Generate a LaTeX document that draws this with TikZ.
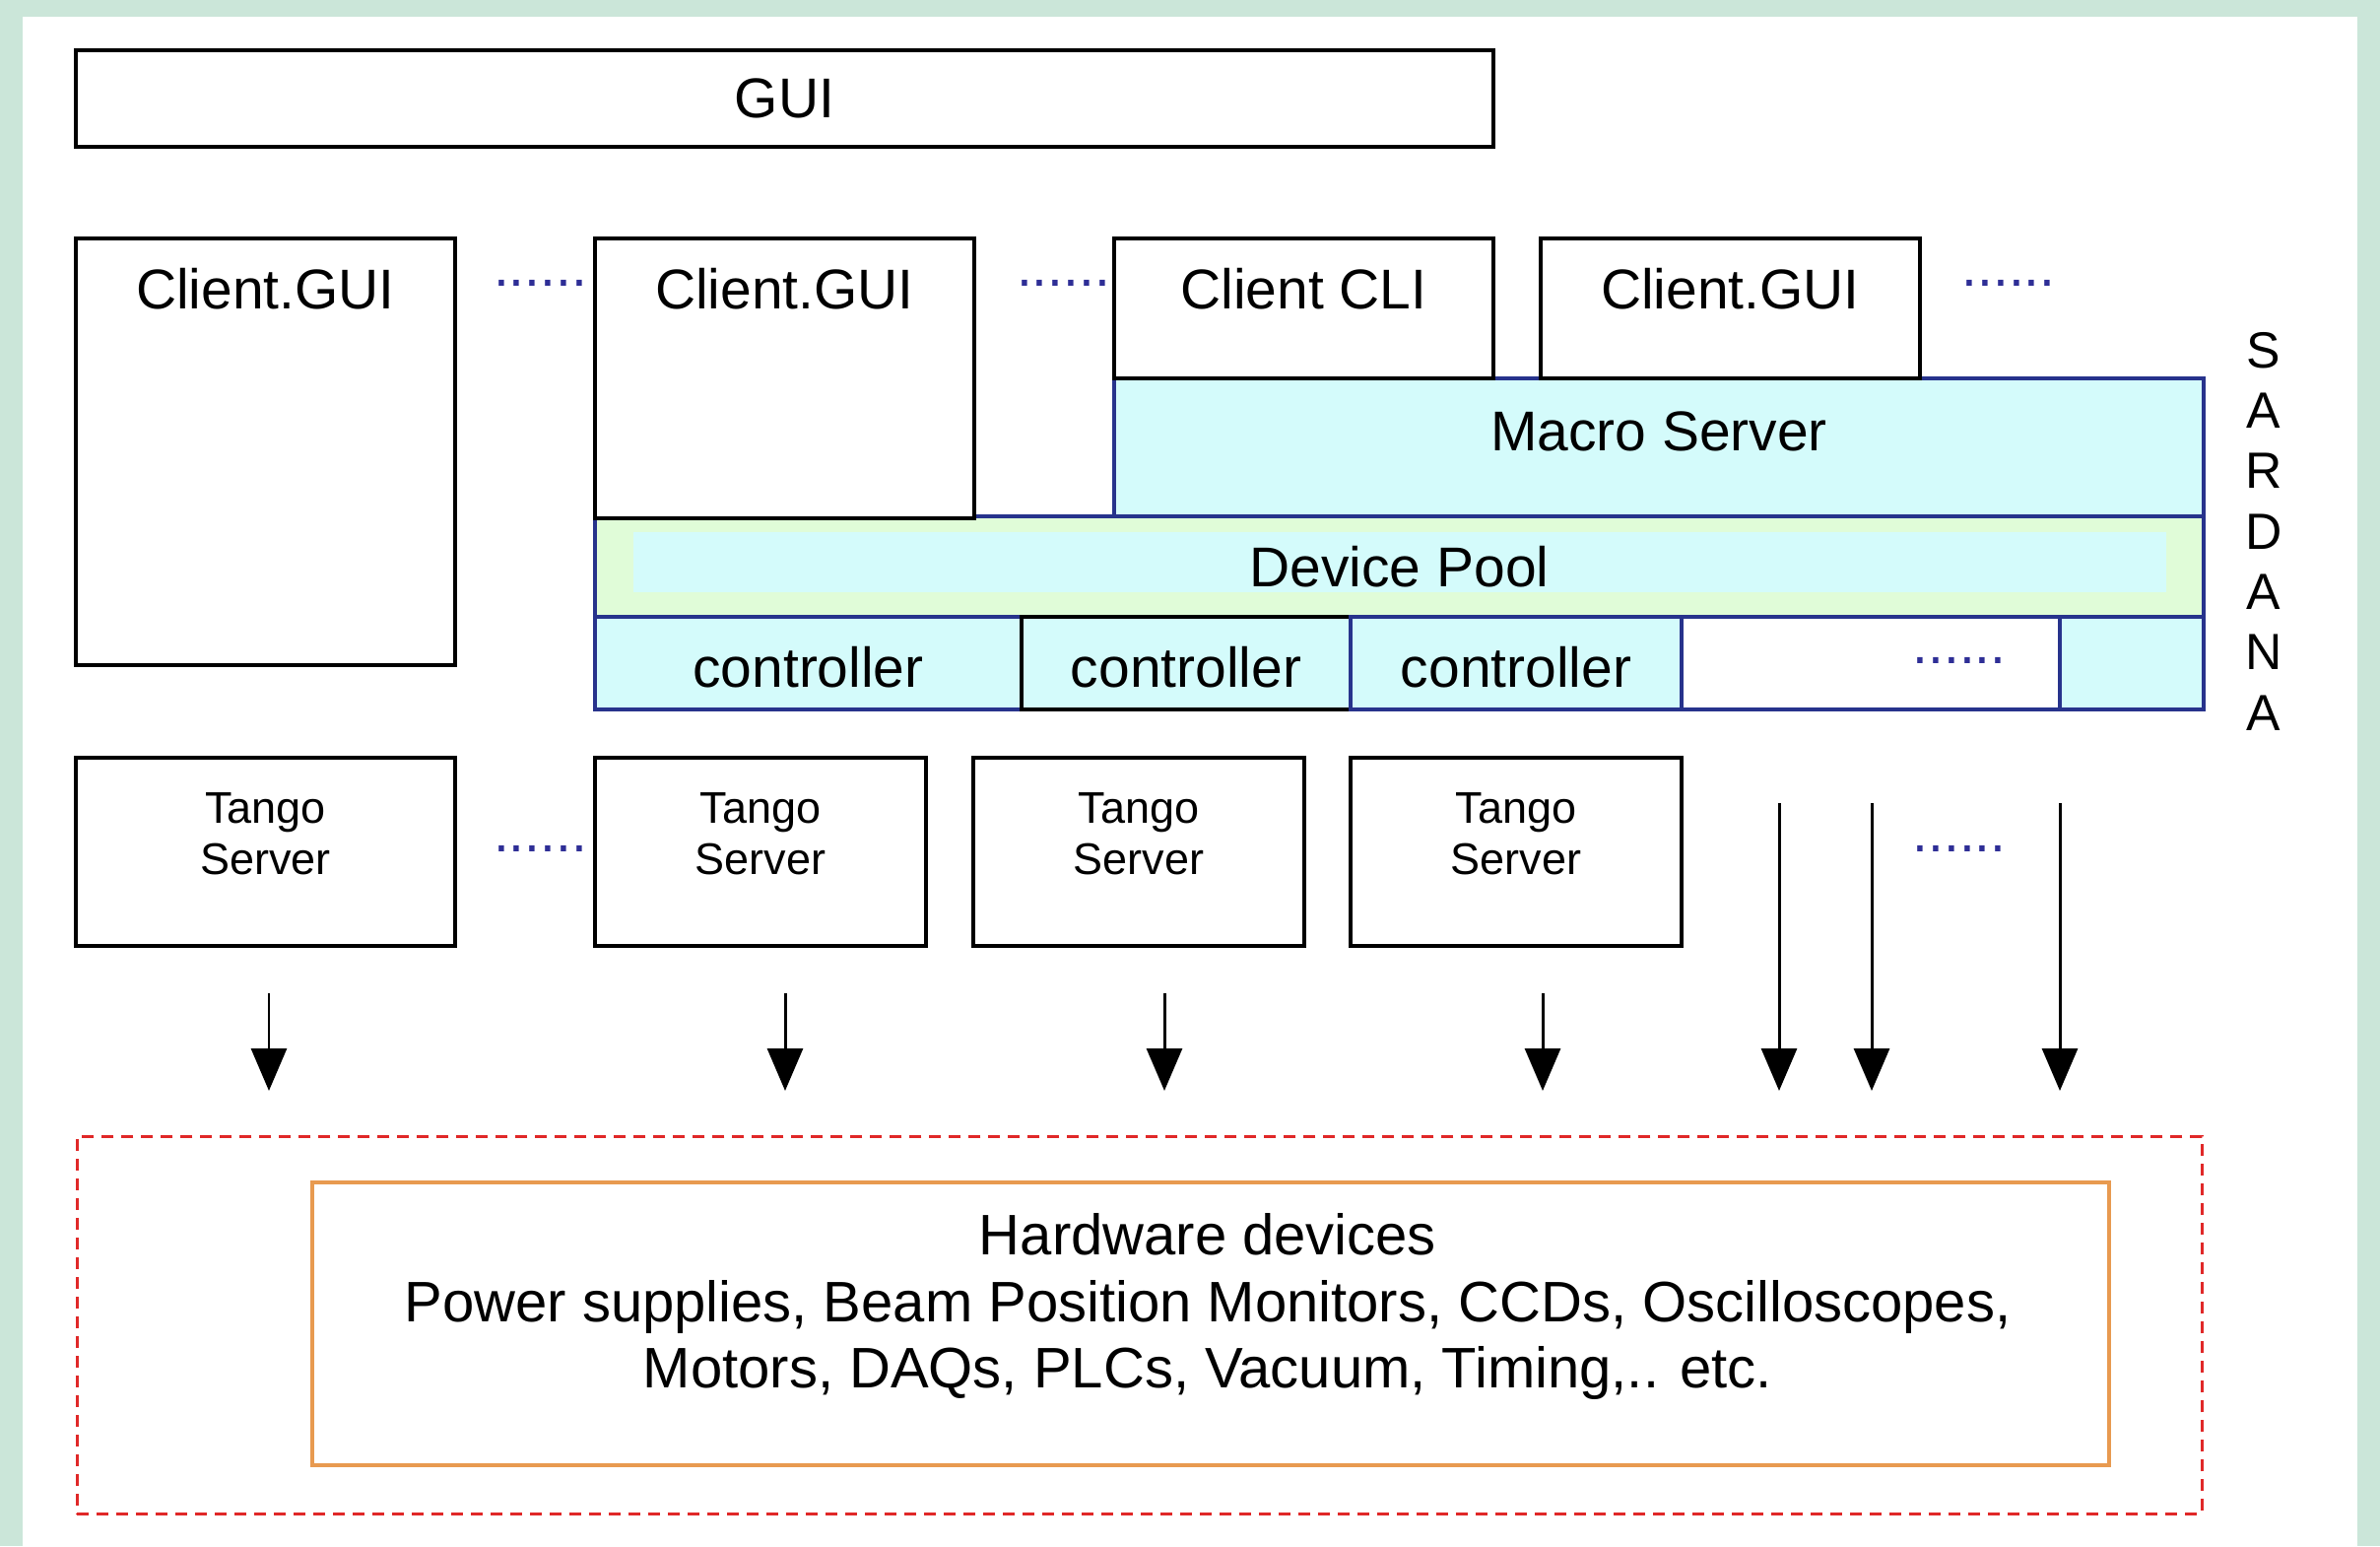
\documentclass[tikz,border=0pt]{standalone}
\usepackage{fontspec}
\setmainfont{Liberation Sans}
\usetikzlibrary{positioning,arrows.meta}
\definecolor{bggreen}{HTML}{CBE6D9}
\definecolor{sardline}{HTML}{27338C}
\definecolor{cyanfill}{HTML}{D4FBFB}
\definecolor{poolfill}{HTML}{E0FCD8}
\definecolor{hwred}{HTML}{E02828}
\definecolor{hworange}{HTML}{E89A50}
\definecolor{dotblue}{HTML}{2E2E96}

\begin{document}
\begin{tikzpicture}[
  x=1cm, y=-1cm,
  font=\fontsize{16.2}{19}\selectfont,
  box/.style={draw=black, line width=0.9pt, fill=white, inner sep=0pt, outer sep=0pt, anchor=north west},
  sard/.style={draw=sardline, line width=1pt, fill=cyanfill, inner sep=0pt, outer sep=0pt},
  ctrl/.style={sard, minimum height=0.94cm, text height=0.5cm},
  tango/.style={box, anchor=center, minimum width=3.36cm, minimum height=1.91cm},
  lbl/.style={inner sep=0pt, anchor=base},
  small/.style={inner sep=0pt, anchor=north, align=center, font=\fontsize{12.8}{14.8}\selectfont},
  more/.style={inner sep=0pt, anchor=base, text=dotblue},
  arr/.style={-{Triangle[length=4.3mm,width=3.6mm]}, line width=0.85pt},
]
% frame
\fill[bggreen] (0,0) rectangle (24.16,15.69);
\fill[white] (0.23,0.17) rectangle (23.93,15.69);
\useasboundingbox (0,0) rectangle (24.16,15.69);

\node[box, minimum width=14.39cm, minimum height=0.98cm] (gui) at (0.77,0.51) {GUI};

% sardana layers
\node[sard, anchor=north west, minimum width=11.06cm, minimum height=1.40cm] (macro) at (11.31,3.84) {};
\node[lbl] (macrotxt) at ([yshift=-7.3mm]macro.north) {Macro Server};
\node[sard, anchor=north west, fill=poolfill, minimum width=16.33cm, minimum height=1.02cm] (pool) at (6.04,5.24) {};
\fill[cyanfill] (6.43,5.40) rectangle (21.99,6.01);
\node (pooltxt) at (pool.center) {Device Pool};

\node[ctrl, anchor=north west, minimum width=4.33cm] (c1) at (6.04,6.26) {controller};
\node[ctrl, draw=black, minimum width=3.34cm, right=0pt of c1] (c2) {controller};
\node[ctrl, minimum width=3.36cm, right=0pt of c2] (c3) {controller};
\node[ctrl, fill=white, minimum width=3.84cm, right=0pt of c3] (c4) {};
\node[ctrl, minimum width=1.46cm, right=0pt of c4] (c5) {};

% clients
\node[box, minimum width=3.85cm, minimum height=4.33cm] (cg1) at (0.77,2.42) {};
\node[box, minimum width=3.85cm, minimum height=2.84cm] (cg2) at (6.04,2.42) {};
\node[box, minimum width=3.85cm, minimum height=1.42cm] (ccli) at (11.31,2.42) {};
\node[box, minimum width=3.85cm, minimum height=1.42cm] (cg3) at (15.64,2.42) {};
\node[lbl] (cg1txt) at ([yshift=-7.1mm]cg1.north) {Client.GUI};
\node[lbl] (cg2txt) at ([yshift=-7.1mm]cg2.north) {Client.GUI};
\node[lbl] (cclitxt) at ([yshift=-7.1mm]ccli.north) {Client CLI};
\node[lbl] (cg3txt) at ([yshift=-7.1mm]cg3.north) {Client.GUI};

\node[inner sep=0pt, align=center, font=\fontsize{14.7}{17.45}\selectfont] (sardana) at (22.98,5.39) {S\\A\\R\\D\\A\\N\\A};

% tango servers
\node[tango, minimum width=3.85cm] (t1) at (2.695,8.645) {};
\node[tango, right=1.42cm of t1] (t2) {};
\node[tango, right=0.48cm of t2] (t3) {};
\node[tango, right=0.47cm of t3] (t4) {};
\foreach \t in {t1,t2,t3,t4}
  \node[small] (\t-lbl) at ([yshift=-3.5mm]\t.north) {Tango\\Server};

% more of the same
\node[more] (dots1) at (5.485,2.90) {......};
\node[more] (dots2) at (10.795,2.90) {......};
\node[more] (dots3) at (20.39,2.90) {......};
\node[more] (dots4) at (19.89,6.73) {......};
\node[more] (dots5) at (5.485,8.64) {......};
\node[more] (dots6) at (19.89,8.64) {......};

% down to the hardware
\foreach \n/\x/\y in {1/2.73/10.08, 2/7.97/10.08, 3/11.82/10.08, 4/15.66/10.08, 5/18.06/8.15, 6/19.00/8.15, 7/20.91/8.15} {
  \coordinate (from\n) at (\x,\y);
  \coordinate (to\n) at (\x,11.07);
  \draw[arr] (from\n) -- (to\n);
}

% hardware
\node[draw=hwred, dash pattern=on 1.2mm off 0.8mm, line width=0.8pt, anchor=north west, minimum width=21.57cm, minimum height=3.83cm, inner sep=0pt] (hw) at (0.77,11.52) {};
\node[draw=hworange, line width=1pt, minimum width=18.24cm, minimum height=2.87cm, inner sep=0pt] (devs) at (12.29,13.435) {};
\node[inner sep=0pt, anchor=north, align=center, font=\fontsize{16.5}{19.2}\selectfont] (devtxt) at (12.26,12.31) {Hardware devices\\Power supplies, Beam Position Monitors, CCDs, Oscilloscopes,\\Motors, DAQs, PLCs, Vacuum, Timing,.. etc.};
\end{tikzpicture}
\end{document}
